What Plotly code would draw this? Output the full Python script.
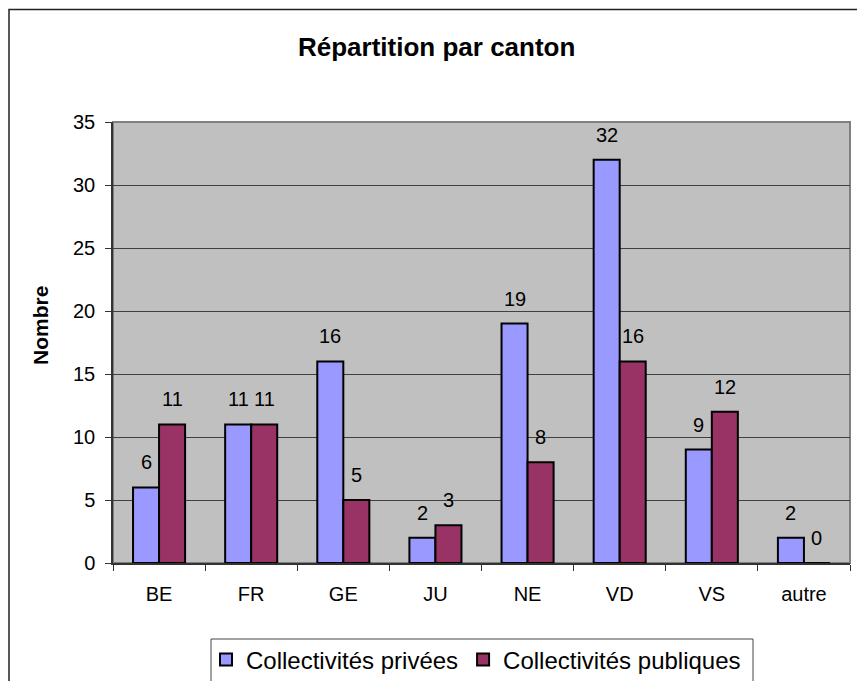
import plotly.graph_objects as go

categories = ["BE", "FR", "GE", "JU", "NE", "VD", "VS", "autre"]
privees = [6, 11, 16, 2, 19, 32, 9, 2]
publiques = [11, 11, 5, 3, 8, 16, 12, 0]
series_names = ["Collectivités privées", "Collectivités publiques"]
title_text = "Répartition par canton"
yaxis_title = "Nombre"

FONT = "Liberation Sans, Arial, sans-serif"
OFF = 8  # page body margin
W, H = 857, 673
L, T = 113 - OFF, 122 - OFF
R = W - (850 - OFF)
B = H - (563 - OFF)
pw, ph = W - L - R, H - T - B

fig = go.Figure()
fig.add_trace(go.Bar(x=categories, y=privees, name=series_names[0],
                     marker=dict(color="#9999FF", line=dict(color="black", width=2))))
fig.add_trace(go.Bar(x=categories, y=publiques, name=series_names[1],
                     marker=dict(color="#993366", line=dict(color="black", width=2))))

annotations = []
for vals, shift in ((privees, -13), (publiques, 13)):
    for c, v in zip(categories, vals):
        annotations.append(dict(x=c, y=v, xref="x", yref="y", text=str(v), showarrow=False,
                                xshift=shift, yshift=25, yanchor="middle",
                                font=dict(family=FONT, size=20, color="black")))

def px(x):
    return (x - OFF - L) / pw

def py(y):
    return (H - B - (y - OFF)) / ph

annotations.append(dict(x=px(436), y=py(47), xref="paper", yref="paper", text="<b>" + title_text + "</b>",
                        showarrow=False, xanchor="center", yanchor="middle",
                        font=dict(family=FONT, size=26, color="black")))
annotations.append(dict(x=px(40), y=py(326), xref="paper", yref="paper", text="<b>" + yaxis_title + "</b>",
                        showarrow=False, textangle=-90, xanchor="center", yanchor="middle",
                        font=dict(family=FONT, size=21, color="black")))

shapes = [
    dict(type="rect", xref="paper", yref="paper", x0=px(OFF + 1), x1=px(861), y0=py(720), y1=py(OFF + 1.5),
         line=dict(color="#222222", width=1.5), fillcolor="rgba(0,0,0,0)", layer="below"),
    dict(type="rect", xref="paper", yref="paper", x0=0, x1=1, y0=0, y1=1,
         line=dict(color="#808080", width=2), fillcolor="rgba(0,0,0,0)", layer="below"),
    dict(type="rect", xref="paper", yref="paper", x0=px(211), x1=px(753), y0=py(720), y1=py(639),
         line=dict(color="#444444", width=1), fillcolor="white", layer="below"),
]

fig.update_layout(
    width=W, height=H,
    margin=dict(l=L, r=R, t=T, b=B, autoexpand=False),
    paper_bgcolor="white", plot_bgcolor="#C0C0C0",
    barmode="group", bargap=0.435, bargroupgap=0,
    font=dict(family=FONT, size=20, color="black"),
    showlegend=True,
    legend=dict(orientation="h", x=px(476), xanchor="center", y=py(660), yanchor="middle",
                borderwidth=0, bgcolor="rgba(0,0,0,0)",
                font=dict(family=FONT, size=24, color="black"),
                itemwidth=30, traceorder="normal"),
    annotations=annotations, shapes=shapes,
)
fig.update_xaxes(type="category", tickson="boundaries", ticks="outside", ticklen=6,
                 tickcolor="#333333", showline=True, linecolor="#333333", linewidth=1.5,
                 showgrid=False, tickfont=dict(family=FONT, size=20), ticklabelstandoff=12)
fig.update_yaxes(range=[0, 35], dtick=5, ticks="outside", ticklen=6, tickcolor="#333333",
                 showline=True, linecolor="#333333", linewidth=1.5,
                 showgrid=True, gridcolor="#404040", gridwidth=1, zeroline=False,
                 tickfont=dict(family=FONT, size=20), ticklabelstandoff=6)

fig.write_html("out.html")
